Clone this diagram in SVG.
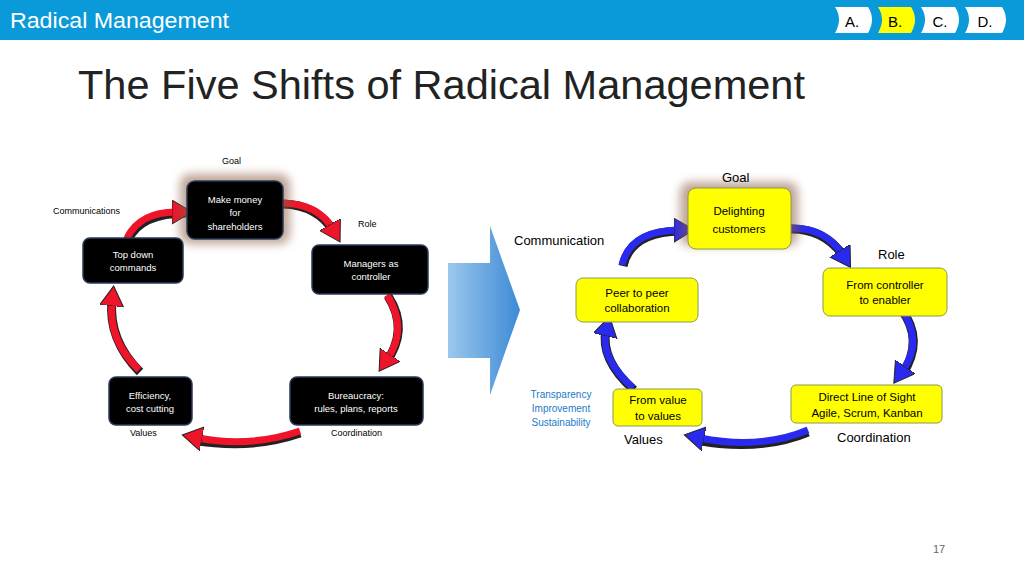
<svg xmlns="http://www.w3.org/2000/svg" width="1024" height="576" viewBox="0 0 1024 576">
<defs>
<style>
.t{font-family:"Liberation Sans",sans-serif}
.b{fill:#000;stroke:#2a3a5a;stroke-width:1.5}
.y{fill:#ffff00;stroke:#8a9a50;stroke-width:1}
.wt{font-family:"Liberation Sans",sans-serif;font-size:9.5px;fill:#fff;text-anchor:middle}
.kt{font-family:"Liberation Sans",sans-serif;font-size:11.5px;fill:#000;text-anchor:middle}
.lb{font-family:"Liberation Sans",sans-serif;font-size:9px;fill:#000}
.lk{font-family:"Liberation Sans",sans-serif;font-size:13px;fill:#000}
.ra{fill:none;stroke:#f0142a;stroke-width:7}
.ba{fill:none;stroke:#2a2aee;stroke-width:7}
.sh{fill:none;stroke:#222;stroke-width:9}
</style>
<marker id="mr" markerUnits="userSpaceOnUse" markerWidth="30" markerHeight="30" refX="4" refY="12" orient="auto"><path d="M0,0 L20,12 L0,24 Z" fill="#f0142a" stroke="#222" stroke-width="1"/></marker>
<marker id="mb" markerUnits="userSpaceOnUse" markerWidth="30" markerHeight="30" refX="4" refY="12" orient="auto"><path d="M0,0 L20,12 L0,24 Z" fill="#2a2aee" stroke="#222" stroke-width="1"/></marker>
<linearGradient id="ga" x1="0" y1="0" x2="1" y2="0"><stop offset="0" stop-color="#9cc8ec"/><stop offset="1" stop-color="#3d8ad6"/></linearGradient>
<filter id="gl" x="-30%" y="-30%" width="160%" height="160%"><feGaussianBlur stdDeviation="5"/></filter>
</defs>
<rect x="0" y="0" width="1024" height="40" fill="#0a9ad9"/>
<text x="10" y="28" class="t" font-size="22" fill="#fff" textLength="219" lengthAdjust="spacingAndGlyphs">Radical Management</text>
<g id="tabs" class="t" font-size="15" text-anchor="middle">
<path d="M835,7 H868 Q876,19 868,33 H835 Q843,19 835,7Z" fill="#fff"/><text x="852" y="27">A.</text>
<path d="M878,7 H911 Q919,19 911,33 H878 Q886,19 878,7Z" fill="#ffff00"/><text x="895" y="27">B.</text>
<path d="M921,7 H955 Q963,19 955,33 H921 Q929,19 921,7Z" fill="#fff"/><text x="940" y="27">C.</text>
<path d="M965,7 H1002 Q1010,19 1002,33 H965 Q973,19 965,7Z" fill="#fff"/><text x="985" y="27">D.</text>
</g>
<text x="78" y="99" class="t" font-size="40" fill="#222" textLength="727" lengthAdjust="spacingAndGlyphs">The Five Shifts of Radical Management</text>

<g id="bigarrow"><path d="M448,263 H490 V226 L520,310 L490,395 V358 H448Z" fill="url(#ga)"/></g>

<g id="connectors">
<path class="sh" d="M128,240 Q140,213 186,213"/><path class="ra" d="M127,238 Q140,212 176,212" marker-end="url(#mr)"/>
<path class="sh" d="M283,204 Q318,205 334,232"/><path class="ra" d="M282,203 Q318,204 332,228" marker-end="url(#mr)"/>
<path class="sh" d="M388,296 Q410,330 385,364"/><path class="ra" d="M387,295 Q408,328 388,358" marker-end="url(#mr)"/>
<path class="sh" d="M300,433 Q250,450 194,440"/><path class="ra" d="M300,431 Q250,448 198,438" marker-end="url(#mr)"/>
<path class="sh" d="M140,372 Q108,340 112,300"/><path class="ra" d="M139,370 Q108,340 112,302" marker-end="url(#mr)"/>

<path class="sh" d="M623,266 Q630,232 680,231"/><path class="ba" d="M622,265 Q630,231 678,230" marker-end="url(#mb)"/>
<path class="sh" d="M790,229 Q825,228 845,258"/><path class="ba" d="M789,228 Q825,227 842,254" marker-end="url(#mb)"/>
<path class="sh" d="M901,309 Q925,340 902,375"/><path class="ba" d="M900,307 Q924,340 903,370" marker-end="url(#mb)"/>
<path class="sh" d="M808,432 Q760,452 696,440"/><path class="ba" d="M808,430 Q760,450 700,438" marker-end="url(#mb)"/>
<path class="sh" d="M634,390 Q600,360 606,330"/><path class="ba" d="M633,388 Q600,358 606,332" marker-end="url(#mb)"/>
</g>

<g id="n1"><rect x="180" y="174" width="110" height="70" rx="10" fill="#8a5a40" opacity="0.55" filter="url(#gl)"/><rect class="b" x="187" y="181" width="96" height="58" rx="8"/>
<text class="wt" x="235" y="203">Make money</text><text class="wt" x="235" y="216">for</text><text class="wt" x="235" y="230">shareholders</text></g>
<g id="n2"><rect class="b" x="312" y="245" width="116" height="49" rx="7"/><text class="wt" x="371" y="267">Managers as</text><text class="wt" x="371" y="280">controller</text></g>
<g id="n3"><rect class="b" x="290" y="377" width="133" height="48" rx="7"/><text class="wt" x="356" y="399">Bureaucracy:</text><text class="wt" x="356" y="412">rules, plans, reports</text></g>
<g id="n4"><rect class="b" x="109" y="377" width="83" height="48" rx="7"/><text class="wt" x="150" y="399">Efficiency,</text><text class="wt" x="150" y="412">cost cutting</text></g>
<g id="n5"><rect class="b" x="83" y="238" width="100" height="45" rx="7"/><text class="wt" x="133" y="258">Top down</text><text class="wt" x="133" y="271">commands</text></g>

<g id="llabels"><text class="lb" x="222" y="164">Goal</text><text class="lb" x="53" y="214">Communications</text><text class="lb" x="358" y="227">Role</text><text class="lb" x="130" y="436">Values</text><text class="lb" x="331" y="436">Coordination</text></g>

<g id="m1"><rect x="680" y="182" width="118" height="64" rx="10" fill="#8a5a40" opacity="0.55" filter="url(#gl)"/><rect class="y" x="688" y="188" width="103" height="61" rx="8"/>
<text class="kt" x="739" y="215">Delighting</text><text class="kt" x="739" y="233">customers</text></g>
<g id="m2"><rect class="y" x="823" y="268" width="124" height="48" rx="7"/><text class="kt" x="885" y="289">From controller</text><text class="kt" x="885" y="304">to enabler</text></g>
<g id="m3"><rect class="y" x="791" y="385" width="151" height="38" rx="5"/><text class="kt" x="867" y="401">Direct Line of Sight</text><text class="kt" x="867" y="417">Agile, Scrum, Kanban</text></g>
<g id="m4"><rect class="y" x="613" y="389" width="89" height="37" rx="5"/><text class="kt" x="658" y="404">From value</text><text class="kt" x="658" y="420">to values</text></g>
<g id="m5"><rect class="y" x="576" y="278" width="122" height="44" rx="7"/><text class="kt" x="637" y="297">Peer to peer</text><text class="kt" x="637" y="312">collaboration</text></g>

<g id="rlabels"><text class="lk" x="722" y="182">Goal</text><text class="lk" x="514" y="245">Communication</text><text class="lk" x="878" y="259">Role</text><text class="lk" x="624" y="444">Values</text><text class="lk" x="837" y="442">Coordination</text>
<g class="t" font-size="10" fill="#1a7ac8" text-anchor="middle"><text x="561" y="398">Transparency</text><text x="561" y="412">Improvement</text><text x="561" y="426">Sustainability</text></g></g>
<text x="939" y="553" class="t" font-size="11" fill="#666" text-anchor="middle">17</text>
</svg>
